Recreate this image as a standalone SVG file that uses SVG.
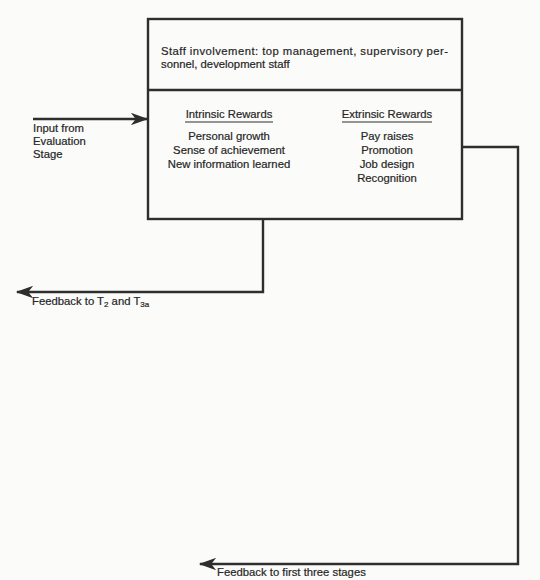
<svg xmlns="http://www.w3.org/2000/svg" width="540" height="580" viewBox="0 0 540 580">
  <style>
    .t { font-family: "Liberation Sans", Arial, sans-serif; font-size: 11.3px; fill: #262626; stroke: #262626; stroke-width: 0.2; }
    .c { text-anchor: middle; }
    .box { fill: none; stroke: #2e2e2e; stroke-width: 2.4; }
    .line { fill: none; stroke: #2e2e2e; stroke-width: 2.4; }
  </style>
  <defs>
    <marker id="head" viewBox="0 0 14 10" refX="13" refY="5" markerWidth="7.5" markerHeight="5.2" orient="auto" markerUnits="strokeWidth">
      <path d="M0,0 L14,5 L0,10 L4,5 Z" fill="#2e2e2e"/>
    </marker>
  </defs>
  <rect width="540" height="580" fill="#fbfbf9"/>

  <g id="connectors">
    <path class="line" d="M33,119 H147" marker-end="url(#head)"/>
    <path class="line" d="M263,220 V292 H17" marker-end="url(#head)"/>
    <path class="line" d="M462,147 H518 V564 H200" marker-end="url(#head)"/>
  </g>

  <g id="staff-box">
    <rect class="box" x="148" y="19" width="314" height="200"/>
    <line class="line" x1="148" y1="90" x2="462" y2="90"/>
    <text class="t" x="161" y="55" textLength="287" lengthAdjust="spacing">Staff involvement: top management, supervisory per-</text>
    <text class="t" x="161" y="68">sonnel, development staff</text>
  </g>

  <g id="intrinsic">
    <text class="t c" x="229" y="118">Intrinsic Rewards</text>
    <line x1="185" y1="122" x2="273" y2="122" stroke="#2e2e2e" stroke-width="1.2"/>
    <text class="t c" x="229" y="140">Personal growth</text>
    <text class="t c" x="229" y="154">Sense of achievement</text>
    <text class="t c" x="229" y="168">New information learned</text>
  </g>

  <g id="extrinsic">
    <text class="t c" x="387" y="118">Extrinsic Rewards</text>
    <line x1="342" y1="122" x2="432" y2="122" stroke="#2e2e2e" stroke-width="1.2"/>
    <text class="t c" x="387" y="140">Pay raises</text>
    <text class="t c" x="387" y="154">Promotion</text>
    <text class="t c" x="387" y="168">Job design</text>
    <text class="t c" x="387" y="182">Recognition</text>
  </g>

  <g id="input-label">
    <text class="t" x="33" y="132">Input from</text>
    <text class="t" x="33" y="145">Evaluation</text>
    <text class="t" x="33" y="158">Stage</text>
  </g>

  <g id="feedback-t2">
    <text class="t" x="32" y="305">Feedback to T<tspan font-size="8" dy="2">2</tspan><tspan dy="-2"> and T</tspan><tspan font-size="8" dy="2">3a</tspan></text>
  </g>

  <g id="feedback-first">
    <text class="t" x="217" y="576">Feedback to first three stages</text>
  </g>
</svg>
